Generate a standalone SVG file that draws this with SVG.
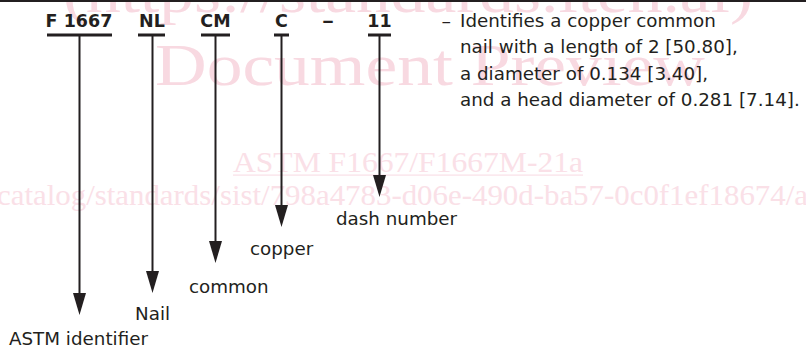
<svg xmlns="http://www.w3.org/2000/svg" width="806" height="350" viewBox="0 0 806 350">
  <defs>
    <style>
      .wm { font-family: "Liberation Serif", "Times New Roman", serif; fill: #f8d9e1; }
      .wm2 { font-family: "Liberation Serif", "Times New Roman", serif; fill: #fae0e7; }
      .code { font-family: "DejaVu Sans", Verdana, sans-serif; font-weight: bold; font-size: 17.5px; fill: #231f20; text-anchor: middle; }
      .lbl { font-family: "DejaVu Sans", Verdana, sans-serif; font-size: 18.3px; fill: #231f20; }
      .bar { fill: #231f20; }
      .lead { stroke: #231f20; stroke-width: 2; fill: none; marker-end: url(#ah); }
    </style>
    <marker id="ah" markerUnits="userSpaceOnUse" markerWidth="22" markerHeight="13" viewBox="0 0 22 13" refX="14" refY="6.5" orient="auto">
      <path d="M0,0 L22,6.5 L0,13 Z" fill="#231f20"/>
    </marker>
  </defs>

  <rect width="806" height="350" fill="#ffffff"/>

  <!-- background stamp -->
  <g id="stamp">
    <text class="wm" x="63" y="12" font-size="60" textLength="690" lengthAdjust="spacingAndGlyphs">(https://standards.iteh.ai)</text>
    <text class="wm" x="155" y="85" font-size="60" textLength="550" lengthAdjust="spacingAndGlyphs">Document Preview</text>
    <text class="wm2" x="233" y="172" font-size="29" textLength="350" lengthAdjust="spacingAndGlyphs">ASTM F1667/F1667M-21a</text>
    <rect x="233" y="174.5" width="350" height="1.2" fill="#fae0e7"/>
    <text class="wm2" x="-3" y="205" font-size="29" textLength="811" lengthAdjust="spacingAndGlyphs">catalog/standards/sist/798a4783-d06e-490d-ba57-0c0f1ef18674/a</text>
  </g>

  <rect x="0" y="0" width="806" height="2" fill="#231f20"/>

  <!-- designation parts -->
  <g id="code-f1667">
    <text class="code" x="79" y="27">F 1667</text>
    <rect class="bar" x="47" y="33.5" width="65" height="3"/>
  </g>
  <g id="code-nl">
    <text class="code" x="152" y="27">NL</text>
    <rect class="bar" x="138" y="33.5" width="27" height="3"/>
  </g>
  <g id="code-cm">
    <text class="code" x="215.5" y="27">CM</text>
    <rect class="bar" x="201" y="33.5" width="29" height="3"/>
  </g>
  <g id="code-c">
    <text class="code" x="281.5" y="27">C</text>
    <rect class="bar" x="274" y="33.5" width="15" height="3"/>
  </g>
  <g id="code-dash">
    <text class="code" x="328" y="27" textLength="12" lengthAdjust="spacingAndGlyphs">–</text>
  </g>
  <g id="code-11">
    <text class="code" x="379.5" y="27">11</text>
    <rect class="bar" x="368" y="33.5" width="23" height="3"/>
  </g>

  <!-- explanation -->
  <g id="description">
    <text class="lbl" x="441.5" y="26.5" textLength="9.5" lengthAdjust="spacingAndGlyphs">–</text>
    <text class="lbl" x="460" y="26.5">Identifies a copper common</text>
    <text class="lbl" x="460" y="53">nail with a length of 2 [50.80],</text>
    <text class="lbl" x="460" y="79.5">a diameter of 0.134 [3.40],</text>
    <text class="lbl" x="460" y="106">and a head diameter of 0.281 [7.14].</text>
  </g>

  <!-- part names -->
  <g id="label-astm"><text class="lbl" x="9" y="345">ASTM identifier</text></g>
  <g id="label-nail"><text class="lbl" x="135" y="320">Nail</text></g>
  <g id="label-common"><text class="lbl" x="189" y="293">common</text></g>
  <g id="label-copper"><text class="lbl" x="250" y="255">copper</text></g>
  <g id="label-dash"><text class="lbl" x="336" y="225">dash number</text></g>

  <!-- leader arrows -->
  <g id="connectors">
    <path class="lead" d="M79.5,36 V307"/>
    <path class="lead" d="M152.5,36 V285"/>
    <path class="lead" d="M215.5,36 V255"/>
    <path class="lead" d="M281.5,36 V219"/>
    <path class="lead" d="M379.5,36 V189"/>
  </g>
</svg>
